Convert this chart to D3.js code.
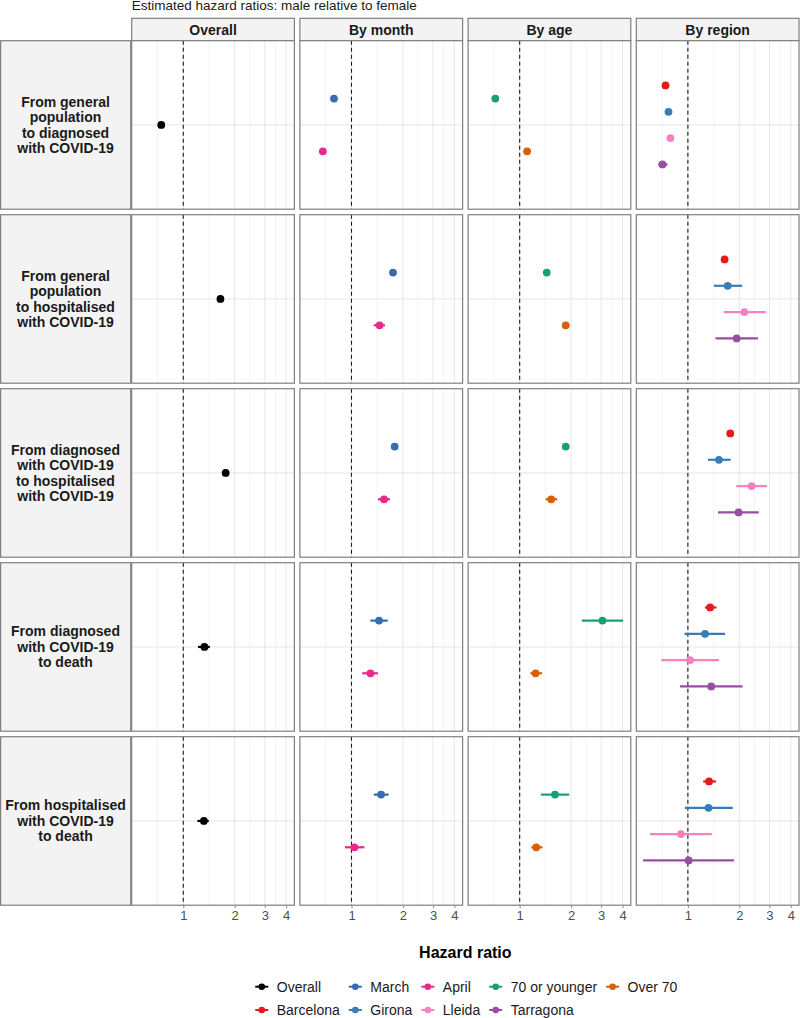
<!DOCTYPE html>
<html>
<head>
<meta charset="utf-8">
<script src="https://cdn.jsdelivr.net/npm/d3@7"></script>
<style>
  body { margin: 0; background: #fff; }
  svg { display: block; font-family: "Liberation Sans", Arial, sans-serif; }
</style>
</head>
<body>
<svg id="chart" width="800" height="1018"></svg>
<script>
// facets
var columns = ['Overall', 'By month', 'By age', 'By region'];
var transitions = [
    ['From general', 'population', 'to diagnosed', 'with COVID-19'],
    ['From general', 'population', 'to hospitalised', 'with COVID-19'],
    ['From diagnosed', 'with COVID-19', 'to hospitalised', 'with COVID-19'],
    ['From diagnosed', 'with COVID-19', 'to death'],
    ['From hospitalised', 'with COVID-19', 'to death']
];
var columnGroups = [
    ['Overall'],
    ['March', 'April'],
    ['70 or younger', 'Over 70'],
    ['Barcelona', 'Girona', 'Lleida', 'Tarragona']
];
var xTicks = [1, 2, 3, 4];

// estimates per group, one value per transition (row)
var overallEst = [0.743, 1.65, 1.77, 1.33, 1.32];
var overallLo  = [0.73, 1.62, 1.74, 1.22, 1.21];
var overallHi  = [0.76, 1.68, 1.80, 1.43, 1.41];

var marchEst = [0.79, 1.75, 1.79, 1.45, 1.49];
var marchLo  = [0.77, 1.70, 1.74, 1.29, 1.35];
var marchHi  = [0.81, 1.80, 1.84, 1.63, 1.65];

var aprilEst = [0.68, 1.46, 1.55, 1.29, 1.04];
var aprilLo  = [0.66, 1.35, 1.43, 1.155, 0.915];
var aprilHi  = [0.70, 1.57, 1.68, 1.43, 1.19];

var youngEst = [0.72, 1.44, 1.86, 3.05, 1.61];
var youngLo  = [0.70, 1.38, 1.80, 2.31, 1.33];
var youngHi  = [0.74, 1.50, 1.92, 4.03, 1.95];

var oldEst = [1.105, 1.86, 1.53, 1.24, 1.25];
var oldLo  = [1.07, 1.79, 1.42, 1.155, 1.17];
var oldHi  = [1.14, 1.93, 1.66, 1.35, 1.36];

var barcelonaEst = [0.74, 1.64, 1.77, 1.35, 1.33];
var barcelonaLo  = [0.72, 1.58, 1.71, 1.26, 1.23];
var barcelonaHi  = [0.76, 1.70, 1.83, 1.47, 1.46];

var gironaEst = [0.77, 1.71, 1.52, 1.26, 1.32];
var gironaLo  = [0.75, 1.42, 1.31, 0.955, 0.96];
var gironaHi  = [0.79, 2.08, 1.78, 1.65, 1.83];

var lleidaEst = [0.79, 2.14, 2.36, 1.03, 0.91];
var lleidaLo  = [0.77, 1.62, 1.92, 0.70, 0.60];
var lleidaHi  = [0.81, 2.86, 2.90, 1.52, 1.38];

var tarragonaEst = [0.71, 1.93, 1.98, 1.37, 1.01];
var tarragonaLo  = [0.67, 1.45, 1.50, 0.90, 0.547];
var tarragonaHi  = [0.76, 2.57, 2.60, 2.09, 1.86];

var series = {
    'Overall':       { est: overallEst, lo: overallLo, hi: overallHi, color: '#000000' },
    'March':         { est: marchEst, lo: marchLo, hi: marchHi, color: '#386CB0' },
    'April':         { est: aprilEst, lo: aprilLo, hi: aprilHi, color: '#E7298A' },
    '70 or younger': { est: youngEst, lo: youngLo, hi: youngHi, color: '#1B9E77' },
    'Over 70':       { est: oldEst, lo: oldLo, hi: oldHi, color: '#D95F02' },
    'Barcelona':     { est: barcelonaEst, lo: barcelonaLo, hi: barcelonaHi, color: '#E41A1C' },
    'Girona':        { est: gironaEst, lo: gironaLo, hi: gironaHi, color: '#377EB8' },
    'Lleida':        { est: lleidaEst, lo: lleidaLo, hi: lleidaHi, color: '#F781BF' },
    'Tarragona':     { est: tarragonaEst, lo: tarragonaLo, hi: tarragonaHi, color: '#984EA3' }
};
var legendRows = [
    ['Overall', 'March', 'April', '70 or younger', 'Over 70'],
    ['Barcelona', 'Girona', 'Lleida', 'Tarragona']
];

// layout
var panelLeft = 131.7, panelTop = 40.7;
var pw = 162.7, ph = 168.5, gap = 5.5;
var stripH = 22.4;
var svg = d3.select('#chart');

var x = d3.scaleLog().domain([0.499, 4.47]).range([0, pw]);
var y = d3.scaleLinear().domain([0.4, 1.6]).range([0, ph]);

// minor breaks halfway (on log scale) between breaks
var breaksExt = [0.5].concat(xTicks);
var minor = d3.pairs(breaksExt).map(function(p) { return Math.sqrt(p[0] * p[1]); });

svg.append('text')
    .attr('x', panelLeft).attr('y', 10)
    .style('font-size', '13.5px').attr('fill', '#1a1a1a')
    .text('Estimated hazard ratios: male relative to female');

// column strips
columns.forEach(function(name, c) {
    var gx = panelLeft + c * (pw + gap);
    svg.append('rect')
        .attr('x', gx).attr('y', panelTop - stripH).attr('width', pw).attr('height', stripH)
        .attr('fill', '#f3f3f3').attr('stroke', '#7f7f7f').attr('stroke-width', 1.2);
    svg.append('text')
        .attr('x', gx + pw / 2).attr('y', panelTop - stripH / 2 + 5)
        .attr('text-anchor', 'middle')
        .style('font-size', '14px').style('font-weight', 'bold').attr('fill', '#1a1a1a')
        .text(name);
});

transitions.forEach(function(lines, r) {
    var gy = panelTop + r * (ph + gap);

    // row strip
    svg.append('rect')
        .attr('x', 0.6).attr('y', gy).attr('width', 130.1).attr('height', ph)
        .attr('fill', '#f3f3f3').attr('stroke', '#7f7f7f').attr('stroke-width', 1.2);
    var lh = 15.5;
    var t = svg.append('text')
        .attr('text-anchor', 'middle')
        .style('font-size', '14px').style('font-weight', 'bold').attr('fill', '#1a1a1a');
    lines.forEach(function(s, i) {
        t.append('tspan')
            .attr('x', 65.5)
            .attr('y', gy + ph / 2 + (i - (lines.length - 1) / 2) * lh + 5)
            .text(s);
    });

    columns.forEach(function(name, c) {
        var gx = panelLeft + c * (pw + gap);
        var g = svg.append('g').attr('transform', 'translate(' + gx + ',' + gy + ')');

        g.append('rect').attr('width', pw).attr('height', ph).attr('fill', '#fff');
        g.selectAll('line.minor').data(minor).enter().append('line')
            .attr('x1', x).attr('x2', x).attr('y1', 0).attr('y2', ph)
            .attr('stroke', '#f0f0f0').attr('stroke-width', 0.8);
        g.selectAll('line.major').data(xTicks).enter().append('line')
            .attr('x1', x).attr('x2', x).attr('y1', 0).attr('y2', ph)
            .attr('stroke', '#e6e6e6').attr('stroke-width', 1);
        g.append('line')
            .attr('x1', 0).attr('x2', pw).attr('y1', y(1)).attr('y2', y(1))
            .attr('stroke', '#e6e6e6').attr('stroke-width', 1);

        g.append('line')
            .attr('x1', x(1)).attr('x2', x(1)).attr('y1', 0).attr('y2', ph)
            .attr('stroke', '#1a1a1a').attr('stroke-width', 1.1)
            .attr('stroke-dasharray', '4,3');

        var groups = columnGroups[c];
        var n = groups.length;
        groups.forEach(function(key, i) {
            var s = series[key];
            var yy = y(1 - 0.375 + 0.75 / n * (i + 0.5));
            g.append('line')
                .attr('x1', x(s.lo[r])).attr('x2', x(s.hi[r]))
                .attr('y1', yy).attr('y2', yy)
                .attr('stroke', s.color).attr('stroke-width', 2.2);
            g.append('circle')
                .attr('cx', x(s.est[r])).attr('cy', yy).attr('r', 3.9)
                .attr('fill', s.color);
        });

        g.append('rect')
            .attr('width', pw).attr('height', ph)
            .attr('fill', 'none').attr('stroke', '#7f7f7f').attr('stroke-width', 1.2);

        if (r === transitions.length - 1) {
            var ax = g.append('g')
                .attr('transform', 'translate(0,' + ph + ')')
                .call(d3.axisBottom(x).tickValues(xTicks).tickFormat(d3.format('d'))
                    .tickSize(3).tickPadding(2.5));
            ax.select('.domain').remove();
            ax.selectAll('line').attr('stroke', '#8c8c8c');
            ax.selectAll('text').attr('fill', '#4d4d4d')
                .style('font-size', '13px').style('font-family', '"Liberation Sans", Arial, sans-serif');
        }
    });
});

var panelsCenter = panelLeft + (4 * pw + 3 * gap) / 2;
svg.append('text')
    .attr('x', panelsCenter).attr('y', 957.5)
    .attr('text-anchor', 'middle')
    .style('font-size', '16px').style('font-weight', 'bold').attr('fill', '#000')
    .text('Hazard ratio');

// legend laid out in columns, like ggplot's byrow legend
var legend = svg.append('g');
var measure = svg.append('text').style('font-size', '14px');
var nCols = legendRows[0].length;
var colW = d3.range(nCols).map(function(ci) {
    return d3.max(legendRows, function(row) {
        if (!row[ci]) return 0;
        measure.text(row[ci]);
        return measure.node().getComputedTextLength();
    });
});
measure.remove();
var keyToText = 15, afterText = 15.5;
var totalW = d3.sum(colW) + nCols * (keyToText + afterText) - afterText + 8.5;
var startX = panelsCenter - totalW / 2 + 8.5;
var colX = [];
var acc = startX;
colW.forEach(function(w) { colX.push(acc); acc += keyToText + w + afterText; });

legendRows.forEach(function(row, ri) {
    var ly = 986.7 + ri * 23.3;
    row.forEach(function(key, ci) {
        var cx = colX[ci];
        var s = series[key];
        legend.append('line')
            .attr('x1', cx - 6.5).attr('x2', cx + 6.5).attr('y1', ly).attr('y2', ly)
            .attr('stroke', s.color).attr('stroke-width', 2);
        legend.append('circle')
            .attr('cx', cx).attr('cy', ly).attr('r', 3.3).attr('fill', s.color);
        legend.append('text')
            .attr('x', cx + keyToText).attr('y', ly + 5)
            .style('font-size', '14px').attr('fill', '#1a1a1a')
            .text(key);
    });
});
</script>
</body>
</html>
